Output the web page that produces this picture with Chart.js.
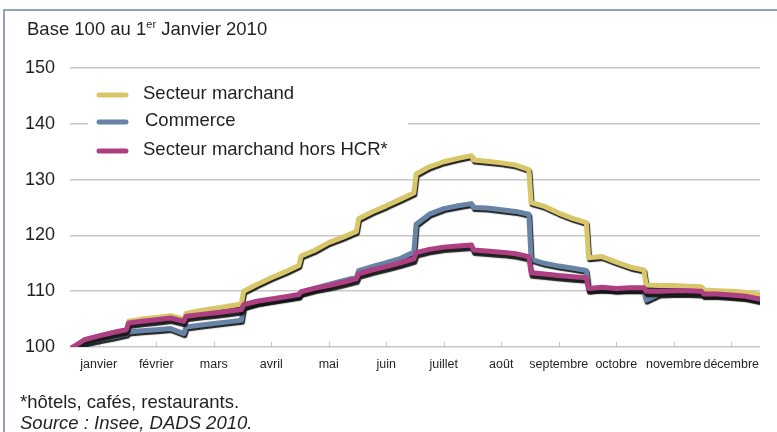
<!DOCTYPE html>
<html>
<head>
<meta charset="utf-8">
<script src="https://cdn.jsdelivr.net/npm/chart.js@4"></script>
<style>
  html, body { margin: 0; padding: 0; background: #fff; }
  #wrap { position: relative; width: 777px; height: 432px; overflow: hidden; font-family: 'Liberation Sans', Arial, Helvetica, sans-serif; color: #231f20; }
  #frame { position: absolute; left: 3px; top: 9px; width: 780px; height: 440px; border-top: 2px solid #8ea3c0; border-left: 2px solid #8ea3c0; box-sizing: border-box; }
  canvas { position: absolute; left: 0; top: 0; }
  .txt { position: absolute; font-size: 18.5px; line-height: 18px; white-space: nowrap; }
  sup { font-size: 11px; line-height: 0; vertical-align: 7px; }
</style>
</head>
<body>
<div id="wrap">
  <div id="frame"></div>
  <canvas id="c" width="777" height="432"></canvas>
  <div class="txt" style="left:27px; top:20px;">Base 100 au 1<sup>er</sup> Janvier 2010</div>
  <div class="txt" style="left:20px; top:393px;">*hôtels, cafés, restaurants.</div>
  <div class="txt" style="left:20px; top:414px; font-style:italic;">Source : Insee, DADS 2010.</div>
</div>
<script>
// ---- Data ----
const months = ['janvier','février','mars','avril','mai','juin','juillet','août','septembre','octobre','novembre','décembre'];
const withinMonth = [0.02, 0.25, 0.5, 0.75, 0.98];   // sample positions inside each month
const yTicks = [100, 110, 120, 130, 140, 150];

const seriesNames = ['Secteur marchand', 'Commerce', 'Secteur marchand hors HCR*'];

const secteurMarchand = [
  99.7, 101.2, 101.9, 102.5, 103.0,
  104.6, 105.0, 105.3, 105.6, 105.0,
  106.0, 106.5, 106.9, 107.3, 107.7,
  110.0, 111.2, 112.4, 113.5, 114.6,
  116.3, 117.3, 118.7, 119.7, 120.7,
  123.0, 124.2, 125.3, 126.5, 127.6,
  131.0, 132.3, 133.2, 133.8, 134.3,
  133.5, 133.3, 133.0, 132.6, 131.8,
  125.9, 125.2, 124.0, 123.0, 122.3,
  116.0, 116.2, 115.2, 114.3, 113.8,
  111.1, 111.0, 111.0, 110.9, 110.8,
  110.2, 110.1, 110.0, 109.8, 109.4
];
const commerce = [
  99.4, 100.7, 101.3, 101.8, 102.3,
  102.7, 102.9, 103.1, 103.3, 102.4,
  103.6, 103.9, 104.2, 104.5, 104.8,
  107.2, 107.9, 108.4, 108.8, 109.2,
  109.8, 110.5, 111.2, 111.9, 112.5,
  113.7, 114.4, 115.1, 115.9, 117.0,
  122.0, 123.8, 124.8, 125.3, 125.7,
  125.0, 124.9, 124.6, 124.3, 123.8,
  115.7, 115.0, 114.5, 114.1, 113.7,
  110.2, 110.4, 110.2, 110.3, 110.2,
  108.4, 109.5, 109.6, 109.6, 109.5,
  109.3, 109.3, 109.2, 109.0, 108.6
];
const horsHCR = [
  99.8, 101.3, 102.0, 102.6, 103.1,
  104.3, 104.6, 104.9, 105.2, 104.6,
  105.5, 105.8, 106.1, 106.4, 106.7,
  107.6, 108.2, 108.6, 109.0, 109.4,
  109.9, 110.5, 111.0, 111.6, 112.2,
  113.1, 113.8, 114.4, 115.1, 115.8,
  116.9, 117.5, 117.9, 118.1, 118.3,
  117.4, 117.2, 117.0, 116.7, 116.2,
  113.3, 113.1, 112.8, 112.6, 112.4,
  110.5, 110.7, 110.5, 110.6, 110.6,
  110.0, 110.0, 110.1, 110.1, 110.0,
  109.5, 109.5, 109.3, 109.1, 108.6
];

// ---- Build points ----
const samplePos = [];
months.forEach((m, i) => withinMonth.forEach(f => samplePos.push(i + f)));
const toPts = vals => vals.map((v, i) => ({ x: samplePos[i], y: v }));

const colors = ['#d8c76a', '#6783a6', '#ad3f82'];
const FONT = "'Liberation Sans', Arial, Helvetica, sans-serif";

const shadowPlugin = {
  id: 'shadow',
  beforeDatasetDraw(chart, args) {
    const ctx = chart.ctx;
    ctx.save();
    const ds = chart.data.datasets[args.index];
    ctx.shadowColor = 'rgba(20,20,20,0.95)';
    ctx.shadowOffsetX = 1;
    ctx.shadowOffsetY = ds.shadowY;
    ctx.shadowBlur = 1;
  },
  afterDatasetDraw(chart) { chart.ctx.restore(); }
};

const extrasPlugin = {
  id: 'extras',
  beforeDatasetsDraw(chart) {
    const ctx = chart.ctx;
    const xs = chart.scales.x, ys = chart.scales.y;
    const base = ys.getPixelForValue(100);
    ctx.save();
    // tick marks pointing up from the axis
    ctx.strokeStyle = '#c2c2c2';
    ctx.lineWidth = 1;
    xs.ticks.forEach(t => {
      const px = Math.round(xs.getPixelForValue(t.value)) + 0.5;
      ctx.beginPath(); ctx.moveTo(px, base); ctx.lineTo(px, base - 5); ctx.stroke();
    });
    // legend box
    ctx.fillStyle = '#ffffff';
    ctx.fillRect(88, 80, 320, 84);
    const rows = [[95, 143], [122, 145], [151, 143]];
    ctx.font = '18.5px ' + FONT;
    ctx.textBaseline = 'middle';
    ctx.textAlign = 'left';
    seriesNames.forEach((n, i) => {
      const [yy, tx] = rows[i];
      ctx.strokeStyle = colors[i];
      ctx.lineWidth = 5;
      ctx.lineCap = 'round';
      ctx.beginPath(); ctx.moveTo(99, yy); ctx.lineTo(126, yy); ctx.stroke();
      ctx.fillStyle = '#231f20';
      ctx.fillText(n, tx, yy - 1);
    });
    ctx.restore();
  }
};

new Chart(document.getElementById('c'), {
  type: 'line',
  data: {
    datasets: [
      { label: seriesNames[2], data: toPts(horsHCR), borderColor: colors[2], shadowY: 3.5, order: 1 },
      { label: seriesNames[1], data: toPts(commerce), borderColor: colors[1], shadowY: 2, order: 2 },
      { label: seriesNames[0], data: toPts(secteurMarchand), borderColor: colors[0], shadowY: 2, order: 3 }
    ].map(d => Object.assign(d, { borderWidth: 5, pointRadius: 0, tension: 0, fill: false, borderJoinStyle: 'round', borderCapStyle: 'round' }))
  },
  options: {
    responsive: false,
    animation: false,
    devicePixelRatio: 1,
    layout: { padding: { left: 0, right: 17, top: 68, bottom: 55 } },
    plugins: { legend: { display: false }, tooltip: { enabled: false } },
    scales: {
      x: {
        type: 'linear', min: 0, max: 12,
        afterBuildTicks: s => { s.ticks = months.map((m, i) => ({ value: i + 0.5 })); },
        afterFit: s => { s.height = 30; },
        ticks: {
          autoSkip: false, maxRotation: 0, minRotation: 0, padding: 10,
          color: '#231f20', font: { family: FONT, size: 12.5 },
          callback: (v, i) => months[i]
        },
        grid: { display: false, drawTicks: false },
        border: { display: false }
      },
      y: {
        min: 100, max: 150,
        afterBuildTicks: s => { s.ticks = yTicks.map(v => ({ value: v })); },
        afterFit: s => { s.width = 70; },
        ticks: { padding: 15, color: '#231f20', font: { family: FONT, size: 18 } },
        grid: { color: '#c8c8c8', lineWidth: 1.5, drawTicks: false },
        border: { display: false }
      }
    }
  },
  plugins: [shadowPlugin, extrasPlugin]
});
</script>
</body>
</html>
